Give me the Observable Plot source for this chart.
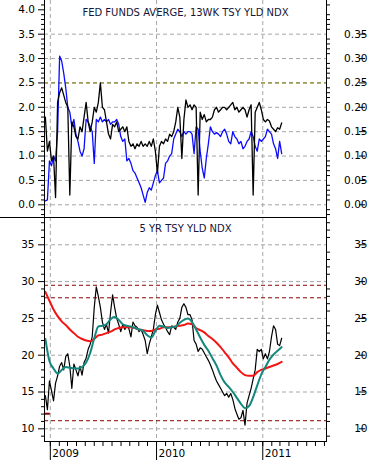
<!DOCTYPE html>
<html><head><meta charset="utf-8">
<script src="https://cdn.jsdelivr.net/npm/d3@7"></script>
<script src="https://cdn.jsdelivr.net/npm/@observablehq/plot@0.6"></script>
<style>
html,body{margin:0;padding:0;background:#fff;}
#chart{position:relative;width:371px;height:460px;overflow:hidden;background:#fff;}
#top{position:absolute;left:0;top:0;}
#bot{position:absolute;left:0;top:217px;}
#divider{position:absolute;left:0;top:217px;width:327px;height:1px;background:#000;}
</style></head><body>
<div id="chart"><div id="top"></div><div id="bot"></div><div id="divider"></div></div>
<script>
// ---- data (weekly from 2008-12-15) ----
const seriesStart = "2008-12-15";
const fedAvg = [1.8,1.1,1.3,0.9,1.0,0.15,2.1,2.3,2.4,2.25,2.1,2.0,0.2,1.7,1.6,1.4,1.35,1.6,1.5,1.8,2.1,1.7,1.5,1.7,2.0,1.9,2.1,2.5,2.0,1.95,1.7,1.45,1.35,1.65,
1.6,1.7,1.5,1.55,1.6,1.5,1.6,1.3,1.2,1.25,1.15,1.25,1.2,1.3,1.2,1.25,1.2,1.3,1.2,1.35,1.1,0.65,1.2,1.3,1.25,1.35,1.3,1.45,1.4,1.5,1.7,2.0,1.8,0.95,1.75,
2.15,2.0,2.05,1.95,2.05,2.0,0.2,1.9,1.75,1.85,1.7,1.75,1.75,1.8,1.95,2.0,1.9,1.95,2.0,2.0,1.95,2.0,2.05,2.1,1.95,2.0,1.9,1.95,2.0,1.95,1.8,1.95,2.05,0.2,1.9,2.0,2.1,1.95,1.75,1.7,1.75,1.72,1.6,1.55,1.5,1.58,1.55,1.68];
const tsy13 = [0.08,0.1,0.9,0.8,1.0,0.9,1.5,3.05,2.95,2.7,2.4,2.0,1.9,1.6,1.75,1.45,1.3,1.1,1.0,1.15,1.75,1.7,1.6,1.5,0.85,1.75,1.7,1.8,1.7,1.75,1.7,1.75,1.65,1.7,
1.7,1.75,1.65,1.4,1.3,1.35,0.9,0.95,0.85,0.7,0.65,0.55,0.45,0.35,0.2,0.05,0.25,0.35,0.3,0.45,0.6,0.7,0.45,0.5,0.55,0.85,0.9,1.0,1.05,1.35,1.45,1.55,1.5,1.4,1.5,
1.45,1.5,1.5,1.45,1.05,1.6,1.55,1.1,0.75,0.55,0.95,1.25,1.6,1.5,1.45,1.48,1.45,1.4,1.5,1.55,1.45,1.3,1.25,1.5,1.4,1.35,1.25,1.3,1.15,1.2,1.3,1.35,1.5,1.4,1.2,1.1,1.35,1.3,1.35,1.4,1.55,1.5,1.45,1.25,1.15,0.95,1.3,1.05];
const yld5 = [14.5,12.6,16.5,15.2,13.8,16.2,17.2,18.5,19.0,18.0,19.8,20.2,18.5,15.5,18.8,18.0,17.2,18.5,17.3,19.0,19.6,20.8,21.5,22.5,26.5,29.3,28.0,26.5,24.5,23.5,24.2,23.0,25.8,28.2,26.5,
25.0,24.2,23.2,24.2,23.5,24.0,23.6,22.5,24.5,24.0,23.8,23.2,23.5,22.8,22.0,20.2,21.5,22.5,23.5,25.5,26.8,25.8,24.8,24.2,23.8,23.2,22.8,24.0,23.8,23.5,24.5,25.0,26.5,27.0,
26.5,25.5,25.5,24.8,22.0,21.5,20.5,21.0,20.8,20.3,19.8,19.3,18.7,18.0,17.2,16.5,16.0,15.5,15.0,14.5,14.8,14.3,14.8,14.0,12.8,12.0,11.3,11.5,12.5,10.5,13.5,14.5,15.5,16.8,18.0,20.8,20.5,20.8,19.5,20.2,19.5,20.5,22.5,24.0,23.5,21.5,21.3,22.3];
// moving averages, every two weeks from the same start
const maShort = [22.2,19.2,18.2,17.5,18.0,18.4,18.3,18.2,18.2,18.4,19.0,20.3,22.3,23.9,24.0,24.2,24.9,25.2,24.8,24.2,24.0,23.9,23.7,23.5,23.3,22.7,22.4,23.3,24.0,23.9,23.7,23.8,23.9,24.4,24.8,25.0,24.5,23.5,22.4,21.4,20.6,19.6,18.6,17.3,16.3,15.7,15.0,14.2,13.4,12.8,13.1,14.3,15.9,17.4,18.4,19.4,20.1,20.6,21.1];
const maLong = [28.6,27.4,26.2,25.3,24.6,24.1,23.5,23.0,22.5,22.2,22.0,21.9,22.2,22.7,22.8,23.0,23.2,23.5,23.7,23.8,23.8,23.8,23.7,23.5,23.4,23.3,23.3,23.5,23.6,23.8,23.8,23.8,23.9,24.0,24.1,24.3,24.2,23.7,23.4,23.1,22.6,22.2,21.7,21.1,20.4,19.7,18.9,18.3,17.7,17.3,17.2,17.2,17.7,18.0,18.2,18.4,18.6,18.8,19.1];

const topTitle = "FED FUNDS AVERGE, 13WK TSY YLD NDX";
const botTitle = "5 YR TSY YLD NDX";
const topLeftTicks = [0,0.5,1,1.5,2,2.5,3,3.5,4];
const topRightTicks = [0,0.5,1,1.5,2,2.5,3,3.5];   // labelled /10
const topGridTicks = [0,0.5,1,1.5,2,2.5,3,3.5];
const botTicks = [10,15,20,25,30,35];
const oliveLevel = [2.5];
const redLevels = [29.5,27.8,11.1];
const startMark = [{from:"2008-12-12", to:"2009-01-01", level:12.05}];
const xDomain = ["2008-12-12","2011-08-08"];
const yearTicks = ["2009-01-01","2010-01-01","2011-01-01"];

// ---- build tables ----
const pd = s => new Date(s + "T00:00:00Z");
const t0 = pd(seriesStart);
const wk = i => d3.utcDay.offset(t0, 7*i);
const topRows = fedAvg.map((v,i)=>({date:wk(i), fed:v, tsy:tsy13[i]}));
const botRows = yld5.map((v,i)=>({date:wk(i), y:v}));
const maRows = maShort.map((v,k)=>({date:wk(2*k), s:v, l:maLong[k]}));
const xd = xDomain.map(pd);
const years = yearTicks.map(pd);
const months = d3.utcMonth.range(pd("2009-01-01"), d3.utcDay.offset(xd[1],1));
const markRows = startMark.map(d=>({x1:pd(d.from), x2:pd(d.to), y:d.level}));
const topMinor = d3.range(-2,42).map(d=>d/10).filter(d=>Math.abs(d*2-Math.round(d*2))>1e-6);
const botMinor = d3.range(9,39).filter(d=>d%5!==0);

const common = {
  width:371, marginLeft:44, marginRight:45,
  style:{background:"#fff", fontFamily:"DejaVu Sans", fontSize:"10.5px", color:"#000", overflow:"visible"}
};
const xs = {type:"utc", domain:xd, label:null, axis:null};
const grid = {stroke:"#a6a6a6", strokeOpacity:1, strokeDasharray:"4,3"};

const topPlot = Plot.plot({
  ...common, height:217, marginTop:0, marginBottom:0,
  x: xs,
  y: {domain:[0,4], range:[204.3,9.3], axis:null, label:null},
  marks:[
    Plot.gridY({ticks:topGridTicks, ...grid}),
    Plot.gridX({ticks:years, ...grid}),
    Plot.ruleY(oliveLevel, {stroke:"#7a7a00", strokeDasharray:"4,3"}),
    Plot.line(topRows, {x:"date", y:"tsy", stroke:"#0b0bff", strokeWidth:1.3}),
    Plot.line(topRows, {x:"date", y:"fed", stroke:"#000", strokeWidth:1.3}),
    Plot.ruleX(xd, {stroke:"#000"}),
    Plot.axisY({anchor:"left", ticks:topLeftTicks, tickSize:6, tickPadding:3.5, tickFormat:d3.format(".1f"), label:null}),
    Plot.axisY({anchor:"left", ticks:topMinor, tickSize:3, fill:"none", label:null}),
    Plot.axisY({anchor:"right", ticks:topRightTicks, tickSize:6, tickPadding:3, textAnchor:"end", dx:32, tickFormat:d=>(d/10).toFixed(2), label:null}),
    Plot.axisY({anchor:"right", ticks:topMinor, tickSize:3, fill:"none", label:null}),
    Plot.text([topTitle], {frameAnchor:"top", lineAnchor:"bottom", dy:15, fontSize:10, fill:"#15153a"})
  ]
});

const botPlot = Plot.plot({
  ...common, height:243, marginTop:0, marginBottom:19,
  x: xs,
  y: {domain:[10,35], range:[211.3,27.3], axis:null, label:null},
  marks:[
    Plot.gridY({ticks:botTicks, ...grid}),
    Plot.gridX({ticks:years, ...grid}),
    Plot.ruleY(redLevels, {stroke:"#8b0000", strokeDasharray:"4,3"}),
    Plot.ruleY(markRows, {y:"y", x1:"x1", x2:"x2", stroke:"#8b0000", strokeWidth:2}),
    Plot.line(botRows, {x:"date", y:"y", stroke:"#000", strokeWidth:1.2}),
    Plot.line(maRows, {x:"date", y:"l", stroke:"#f41414", strokeWidth:2, curve:"monotone-x"}),
    Plot.line(maRows, {x:"date", y:"s", stroke:"#13877d", strokeWidth:2, curve:"monotone-x"}),
    Plot.frame({stroke:"#000"}),
    Plot.axisY({anchor:"left", ticks:botTicks, tickSize:6, tickPadding:4, label:null}),
    Plot.axisY({anchor:"left", ticks:botMinor, tickSize:3, fill:"none", label:null}),
    Plot.axisY({anchor:"right", ticks:botTicks, tickSize:6, tickPadding:3, textAnchor:"end", dx:32, label:null}),
    Plot.axisY({anchor:"right", ticks:botMinor, tickSize:3, fill:"none", label:null}),
    Plot.axisX({anchor:"bottom", ticks:months, tickSize:5, fill:"none", label:null}),
    Plot.axisX({anchor:"bottom", ticks:years, tickSize:19, fill:"none", label:null}),
    Plot.axisX({anchor:"bottom", ticks:years, tickSize:0, tickPadding:8, textAnchor:"start", dx:2, tickFormat:d3.utcFormat("%Y"), label:null}),
    Plot.text([botTitle], {frameAnchor:"top", lineAnchor:"bottom", dy:14, fontSize:10, fill:"#15153a"})
  ]
});

document.getElementById("top").appendChild(topPlot);
document.getElementById("bot").appendChild(botPlot);
</script>
</body></html>
